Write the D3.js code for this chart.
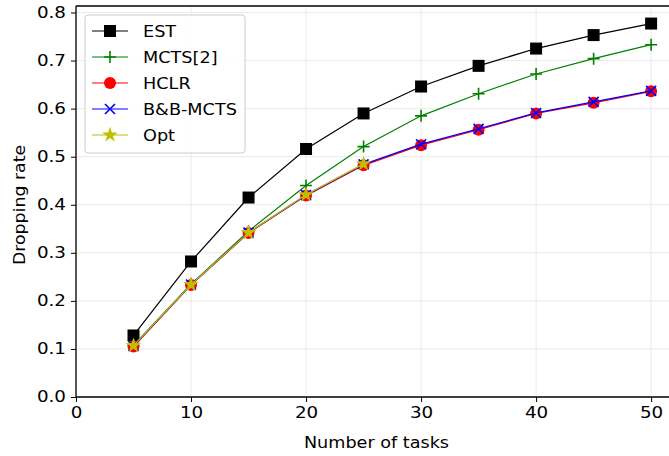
<!DOCTYPE html>
<html>
<head>
<meta charset="utf-8">
<script src="https://cdn.jsdelivr.net/npm/d3@7"></script>
<style>
  body { margin: 0; background: #fff; }
  text { font-family: "DejaVu Sans", sans-serif; }
</style>
</head>
<body>
<div id="chart"></div>
<script>
const width = 669;
const height = 456;

// data
const tasks = [5, 10, 15, 20, 25, 30, 35, 40, 45, 50];
const estRate = [0.128, 0.282, 0.415, 0.516, 0.590, 0.646, 0.689, 0.725, 0.753, 0.777];
const mctsRate = [0.108, 0.235, 0.345, 0.440, 0.521, 0.585, 0.631, 0.672, 0.704, 0.733];
const hclrRate = [0.105, 0.233, 0.341, 0.419, 0.482, 0.524, 0.556, 0.590, 0.612, 0.636];
const bbRate = [0.106, 0.234, 0.342, 0.420, 0.484, 0.526, 0.558, 0.591, 0.614, 0.637];
const optTasks = [5, 10, 15, 20, 25];
const optRate = [0.107, 0.234, 0.342, 0.421, 0.485];
const xTicks = [0, 10, 20, 30, 40, 50];
const yTicks = [0.0, 0.1, 0.2, 0.3, 0.4, 0.5, 0.6, 0.7, 0.8];

const series = [
  { name: "EST", x: tasks, y: estRate, color: "#000000", marker: "square" },
  { name: "MCTS[2]", x: tasks, y: mctsRate, color: "#008000", marker: "plus" },
  { name: "HCLR", x: tasks, y: hclrRate, color: "#ff0000", marker: "circle" },
  { name: "B&B-MCTS", x: tasks, y: bbRate, color: "#0000ff", marker: "cross" },
  { name: "Opt", x: optTasks, y: optRate, color: "#bfbf00", marker: "star" }
];

const svg = d3.select("#chart")
  .append("svg")
  .attr("width", width)
  .attr("height", height);

// plot box (right edge falls just outside the picture)
const pLeft = 76, pRight = 677, pTop = 6, pBottom = 397;

const xScale = d3.scaleLinear().domain([0, 52.25]).range([pLeft, pRight]);
const yScale = d3.scaleLinear().domain([0, 0.8]).range([pBottom, 12.5]);

// widen glyphs a little, the reference text is drawn wide
function stretch(sel, k) {
  sel.each(function () {
    const len = this.getComputedTextLength();
    d3.select(this).attr("textLength", len * k).attr("lengthAdjust", "spacingAndGlyphs");
  });
}

// grid
const grid = svg.append("g");
grid.selectAll("line.vx")
  .data(xTicks)
  .enter().append("line")
  .attr("x1", d => xScale(d)).attr("x2", d => xScale(d))
  .attr("y1", pTop).attr("y2", pBottom)
  .attr("stroke", "#ebebeb").attr("stroke-width", 1);
grid.selectAll("line.hy")
  .data(yTicks)
  .enter().append("line")
  .attr("x1", pLeft).attr("x2", pRight)
  .attr("y1", d => yScale(d)).attr("y2", d => yScale(d))
  .attr("stroke", "#ebebeb").attr("stroke-width", 1);

// axes
const xAxis = svg.append("g")
  .attr("transform", "translate(0," + pBottom + ")")
  .call(d3.axisBottom(xScale).tickValues(xTicks).tickSize(5).tickPadding(5).tickFormat(d3.format("d")));
const yAxis = svg.append("g")
  .attr("transform", "translate(" + pLeft + ",0)")
  .call(d3.axisLeft(yScale).tickValues(yTicks).tickSize(5).tickPadding(5).tickFormat(d3.format(".1f")));
[xAxis, yAxis].forEach(a => {
  a.select(".domain").attr("stroke", "#000").attr("stroke-width", 1.3);
  a.selectAll(".tick line").attr("stroke", "#000").attr("stroke-width", 1);
  a.selectAll(".tick text").attr("font-size", 15).attr("fill", "#000")
    .style("font-family", "DejaVu Sans")
    .call(stretch, 1.22);
});
yAxis.select(".domain").attr("d", "M0," + pBottom + "V" + pTop);
xAxis.select(".domain").attr("d", "M" + pLeft + ",0H" + pRight);

// top spine
svg.append("line")
  .attr("x1", pLeft).attr("x2", pRight).attr("y1", pTop).attr("y2", pTop)
  .attr("stroke", "#000").attr("stroke-width", 1.3);

svg.append("text")
  .attr("x", (pLeft + pRight) / 2).attr("y", 448)
  .attr("text-anchor", "middle").attr("font-size", 16)
  .text("Number of tasks")
  .call(stretch, 1.1);
svg.append("text")
  .attr("transform", "translate(25,205) rotate(-90)")
  .attr("text-anchor", "middle").attr("font-size", 16.5)
  .text("Dropping rate")
  .call(stretch, 1.05);

function drawMarker(g, type, color, cx, cy) {
  if (type === "square") {
    g.append("rect").attr("x", cx - 6).attr("y", cy - 6).attr("width", 12).attr("height", 12).attr("fill", color);
  } else if (type === "circle") {
    g.append("circle").attr("cx", cx).attr("cy", cy).attr("r", 6).attr("fill", color);
  } else if (type === "plus") {
    g.append("path").attr("d", `M${cx - 6},${cy}H${cx + 6}M${cx},${cy - 6}V${cy + 6}`)
      .attr("stroke", color).attr("stroke-width", 1.6);
  } else if (type === "cross") {
    g.append("path").attr("d", `M${cx - 5},${cy - 5}L${cx + 5},${cy + 5}M${cx - 5},${cy + 5}L${cx + 5},${cy - 5}`)
      .attr("stroke", color).attr("stroke-width", 1.6);
  } else if (type === "star") {
    g.append("path").attr("d", d3.symbol(d3.symbolStar, 75)()).attr("transform", `translate(${cx},${cy})`)
      .attr("fill", color);
  }
}

const line = d3.line().x(d => xScale(d[0])).y(d => yScale(d[1]));

series.forEach(s => {
  const pts = s.x.map((x, i) => [x, s.y[i]]);
  const g = svg.append("g");
  g.append("path").datum(pts).attr("d", line)
    .attr("fill", "none").attr("stroke", s.color).attr("stroke-width", 1.2);
  pts.forEach(p => drawMarker(g, s.marker, s.color, xScale(p[0]), yScale(p[1])));
});

// legend
const lg = svg.append("g");
lg.append("rect")
  .attr("x", 85).attr("y", 15).attr("width", 160).attr("height", 138)
  .attr("rx", 3).attr("fill", "#fff").attr("fill-opacity", 0.85)
  .attr("stroke", "#cccccc").attr("stroke-width", 1);
series.forEach((s, i) => {
  const cy = 31 + i * 26;
  lg.append("line").attr("x1", 92).attr("x2", 128).attr("y1", cy).attr("y2", cy)
    .attr("stroke", s.color).attr("stroke-width", 1.2);
  drawMarker(lg, s.marker, s.color, 110, cy);
  lg.append("text").attr("x", 143).attr("y", cy + 6).attr("font-size", 16.5).text(s.name)
    .call(stretch, 1.07);
});
</script>
</body>
</html>
